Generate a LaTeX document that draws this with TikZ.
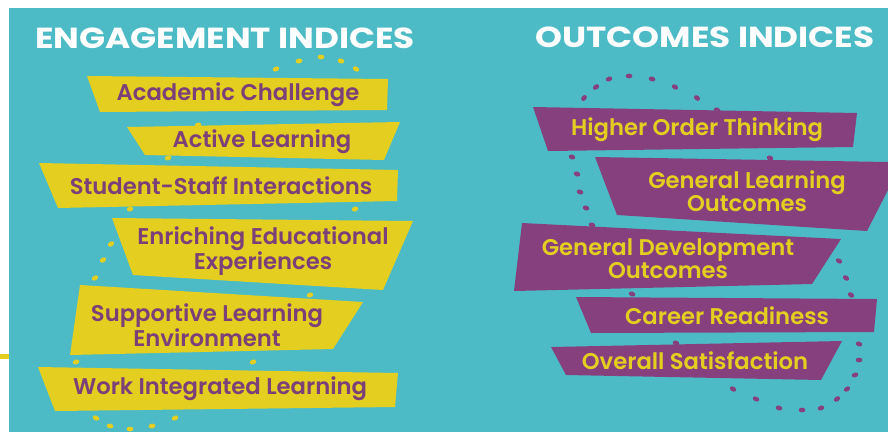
\documentclass[tikz,border=0pt]{standalone}
\usepackage{fontspec}
\setmainfont{Poppins}
\newfontfamily\titfont{Poppins}[FakeStretch=1.18]
\newfontfamily\labfont{Poppins}[UprightFont=* SemiBold, BoldFont=* SemiBold]
\definecolor{tealbg}{RGB}{77,187,198}
\definecolor{yelc}{RGB}{228,206,32}
\definecolor{purc}{RGB}{134,64,126}
\definecolor{ptext}{RGB}{125,63,120}
\newcommand\ydot[3]{\fill[yelc, rotate around={#3:(#1,#2)}] (#1,#2) ellipse [x radius=3.4pt, y radius=2.4pt];}
\newcommand\pdot[3]{\fill[purc, rotate around={#3:(#1,#2)}] (#1,#2) ellipse [x radius=3.4pt, y radius=2.4pt];}
\tikzset{
  titletext/.style={text=white, font=\titfont\fontsize{29}{30}\selectfont\bfseries, inner sep=0pt},
  ylab/.style={text=ptext, font=\labfont\fontsize{22.7}{22.7}\selectfont, inner sep=0pt, align=center},
  plab/.style={text=yelc, font=\labfont\fontsize{22.7}{22.7}\selectfont, inner sep=0pt, align=center},
}
\begin{document}
\begin{tikzpicture}[x=1pt,y=-1pt]
\useasboundingbox (0,0) rectangle (888,432);
\fill[white] (0,0) rectangle (888,432);
\fill[tealbg] (9,8) rectangle (888,432);
\fill[yelc] (0,354) rectangle (9,359);
% titles
\node[titletext] (t1) at (225,38) {ENGAGEMENT INDICES};
\node[titletext] (t2) at (705,37) {OUTCOMES INDICES};
% yellow dots
\ydot{276}{69}{25}\ydot{299}{61}{12}\ydot{321}{57}{0}\ydot{341}{61}{-15}\ydot{356}{69}{-30}
\ydot{198}{125}{15}\ydot{168}{158}{15}\ydot{130}{209}{15}\ydot{355}{209}{20}
\ydot{111}{244}{30}\ydot{103}{260}{30}\ydot{95}{278}{30}\ydot{310}{295}{20}
\ydot{76}{362}{20}\ydot{253}{362}{20}
\ydot{96}{418}{-25}\ydot{110}{426}{-12}\ydot{130}{429}{0}\ydot{152}{426}{12}\ydot{175}{418}{25}
% purple dots
\pdot{584}{98}{50}\pdot{596}{87}{35}\pdot{609}{79}{20}\pdot{629}{76}{0}\pdot{652}{79}{-15}\pdot{675}{87}{-30}\pdot{697}{98}{-40}
\pdot{717}{110}{-20}\pdot{770}{158}{-20}
\pdot{572}{157}{-20}\pdot{577}{174}{-20}\pdot{580}{192}{-20}\pdot{586}{208}{-20}\pdot{592}{225}{-20}
\pdot{839}{261}{-30}\pdot{846}{278}{-35}\pdot{851}{295}{-35}\pdot{632}{294}{-20}\pdot{676}{343}{-20}
\pdot{859}{344}{-20}\pdot{859}{360}{0}\pdot{855}{375}{20}\pdot{847}{389}{30}\pdot{837}{399}{35}
\pdot{821}{408}{20}\pdot{802}{410}{0}\pdot{779}{408}{-15}\pdot{756}{399}{-25}\pdot{733}{389}{-30}
% yellow banners
\fill[yelc] (87,76) -- (388,79) -- (387,110) -- (100,112) -- cycle;
\fill[yelc] (127,127) -- (400,122) -- (384,160) -- (145,155) -- cycle;
\fill[yelc] (39,163) -- (398,170) -- (397,201) -- (58,208) -- cycle;
\fill[yelc] (112,218) -- (413,221) -- (383,290) -- (133,275) -- cycle;
\fill[yelc] (80,285) -- (363,302) -- (333,349) -- (70,355) -- cycle;
\fill[yelc] (38,367) -- (398,373) -- (395,407) -- (55,411) -- cycle;
% purple banners
\fill[purc] (533,107) -- (857,113) -- (853,147) -- (548,151) -- cycle;
\fill[purc] (595,157) -- (888,162) -- (888,190) -- (867,231) -- (617,215) -- cycle;
\fill[purc] (522,223) -- (841,239) -- (812,284) -- (514,291) -- cycle;
\fill[purc] (576,297) -- (877,299) -- (874,332) -- (591,333) -- cycle;
\fill[purc] (551,347) -- (842,341) -- (821,380) -- (566,375) -- cycle;
% labels
\node[ylab] (e1) at (238,95) {Academic Challenge};
\node[ylab] (e2) at (262,142) {Active Learning};
\node[ylab] (e3) at (221,186) {Student-Staff Interactions};
\node[ylab] (e4) at (263,251) {Enriching Educational\\Experiences};
\node[ylab] (e5) at (207,325) {Supportive Learning\\Environment};
\node[ylab] (e6) at (220,389) {Work Integrated Learning};
\node[plab] (o1) at (697,130) {Higher Order Thinking};
\node[plab] (o2) at (747,191) {General Learning\\Outcomes};
\node[plab] (o3) at (668,259) {General Development\\Outcomes};
\node[plab] (o4) at (727,316) {Career Readiness};
\node[plab] (o5) at (695,361) {Overall Satisfaction};
\end{tikzpicture}
\end{document}
